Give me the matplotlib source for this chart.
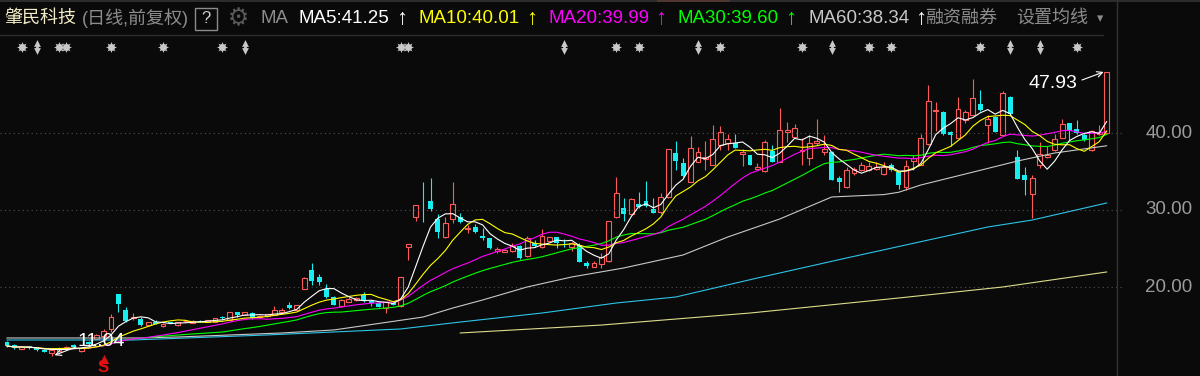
import numpy as np
import pandas as pd
import matplotlib
matplotlib.use("Agg")
import matplotlib.pyplot as plt
from matplotlib.patches import Rectangle
from matplotlib.lines import Line2D

plt.rcParams['font.family'] = ['Liberation Sans', 'Noto Sans CJK SC', 'DejaVu Sans']

# daily candles, oldest first (前复权)
opens = [12.86, 12.47, 11.95, 12.34, 12.08, 11.82, 11.43, 11.69, 11.95, 12.47,
         11.69, 12.86, 13.25, 13.64, 14.55, 19.09, 17.01, 15.97, 15.84, 15.06,
         15.45, 14.94, 15.45, 15.06, 15.55, 15.32, 15.58, 15.45, 15.45, 16.10,
         15.71, 16.75, 16.36, 16.62, 16.10, 16.23, 16.36, 16.75, 17.66, 17.01,
         19.74, 22.21, 21.30, 19.74, 18.70, 17.53, 18.05, 18.31, 18.96, 18.18,
         17.92, 17.27, 17.92, 17.53, 25.19, 29.09, 31.35, 31.17, 28.83, 26.49,
         28.83, 29.09, 27.53, 27.79, 26.62, 26.36, 24.68, 24.55, 24.68, 25.32,
         24.03, 25.71, 25.19, 25.97, 26.49, 25.90, 25.19, 25.45, 23.12, 22.60,
         22.99, 23.38, 29.09, 30.26, 29.48, 30.78, 31.17, 30.13, 29.74, 31.69,
         37.40, 36.10, 33.64, 36.23, 36.62, 35.84, 38.44, 38.70, 38.70, 37.27,
         37.14, 35.32, 35.06, 37.66, 36.23, 40.13, 39.48, 37.70, 36.75, 38.70,
         37.53, 37.53, 34.16, 32.99, 34.80, 35.19, 35.19, 35.32, 34.68, 35.84,
         34.94, 32.99, 36.36, 35.84, 38.57, 42.86, 42.73, 40.13, 39.35, 41.69,
         42.34, 43.77, 41.04, 42.08, 39.74, 44.74, 36.88, 34.55, 32.08, 35.84,
         36.88, 37.79, 39.35, 41.30, 40.52, 39.74, 37.79, 39.87, 39.95]
highs = [12.99, 12.55, 12.30, 12.40, 12.15, 11.90, 11.90, 12.15, 12.30, 12.55,
         12.15, 12.95, 13.90, 14.55, 16.49, 19.15, 17.40, 16.62, 16.10, 15.50,
         15.71, 15.32, 15.50, 15.50, 15.71, 15.65, 15.71, 15.75, 16.00, 16.20,
         16.80, 16.80, 16.80, 16.70, 16.30, 16.55, 17.53, 17.27, 18.05, 17.70,
         21.30, 23.12, 21.69, 20.39, 18.83, 18.40, 18.70, 18.70, 19.35, 18.25,
         18.00, 18.10, 18.00, 21.30, 25.60, 30.65, 33.64, 34.16, 29.48, 29.09,
         33.64, 29.61, 28.05, 28.18, 27.66, 26.40, 25.19, 24.90, 25.71, 25.40,
         26.62, 26.10, 27.53, 26.55, 26.55, 26.23, 25.84, 25.71, 23.38, 23.38,
         24.42, 28.60, 34.29, 31.56, 31.50, 32.34, 33.77, 31.56, 32.21, 37.95,
         38.96, 36.75, 39.61, 38.18, 38.96, 41.04, 40.91, 39.87, 39.87, 37.92,
         37.20, 36.10, 39.09, 38.44, 43.25, 41.43, 41.17, 39.35, 39.74, 41.82,
         39.74, 37.60, 34.42, 35.58, 35.58, 36.23, 36.23, 36.23, 36.23, 36.10,
         35.00, 36.49, 37.14, 39.87, 46.23, 44.03, 42.80, 40.20, 44.68, 42.99,
         47.01, 45.58, 42.34, 42.15, 45.45, 44.80, 37.79, 35.58, 34.55, 38.83,
         38.31, 39.87, 41.82, 41.35, 41.69, 40.00, 40.39, 41.04, 47.93]
lows = [12.21, 12.00, 11.90, 12.00, 11.75, 11.50, 11.04, 11.60, 11.90, 12.15,
        11.60, 12.50, 13.20, 13.60, 14.16, 16.75, 15.50, 15.71, 15.00, 15.00,
        15.15, 14.81, 15.30, 15.00, 15.45, 15.30, 15.40, 15.40, 15.40, 15.90,
        15.60, 16.10, 16.30, 15.90, 16.00, 16.10, 16.30, 16.70, 17.20, 16.95,
        19.70, 20.26, 20.26, 18.57, 17.60, 17.45, 18.00, 18.20, 18.10, 17.53,
        17.35, 16.62, 17.60, 17.45, 23.51, 28.57, 28.44, 29.87, 26.36, 26.40,
        28.31, 28.31, 27.01, 27.00, 26.10, 25.00, 24.42, 24.50, 24.60, 23.70,
        23.95, 25.19, 25.10, 25.90, 25.06, 25.19, 24.68, 23.20, 22.47, 22.55,
        22.47, 23.30, 29.00, 28.57, 29.40, 30.30, 30.45, 29.55, 29.48, 31.60,
        35.19, 34.35, 33.60, 36.20, 35.19, 35.80, 37.79, 37.79, 38.00, 35.71,
        35.80, 35.25, 35.00, 36.20, 36.20, 38.83, 39.40, 35.84, 35.84, 38.44,
        37.14, 33.85, 32.34, 32.90, 34.55, 35.10, 35.10, 35.25, 34.60, 35.10,
        32.73, 32.60, 35.19, 35.80, 38.50, 40.26, 39.80, 38.31, 39.30, 41.30,
        42.30, 42.90, 38.70, 40.10, 39.70, 42.40, 34.00, 31.95, 28.96, 35.45,
        36.75, 37.70, 39.30, 38.96, 39.90, 39.00, 37.70, 39.80, 39.90]
closes = [12.34, 12.08, 12.21, 12.08, 11.82, 11.56, 11.82, 12.08, 12.21, 12.21,
          12.08, 12.60, 13.77, 14.29, 16.10, 17.79, 15.58, 16.10, 15.06, 15.45,
          15.19, 15.19, 15.32, 15.45, 15.60, 15.58, 15.45, 15.71, 15.97, 15.97,
          16.75, 16.36, 16.75, 15.97, 16.23, 16.49, 17.01, 17.01, 17.27, 17.66,
          21.17, 20.78, 20.65, 18.70, 17.66, 18.31, 18.44, 18.57, 18.18, 17.92,
          17.40, 18.05, 17.66, 21.30, 25.58, 30.65, 31.25, 30.13, 27.14, 28.31,
          30.78, 28.44, 27.66, 27.14, 26.36, 25.06, 24.94, 24.81, 25.32, 23.77,
          26.36, 25.32, 26.62, 26.49, 25.71, 25.80, 25.71, 23.25, 22.73, 23.12,
          23.90, 28.57, 32.21, 29.48, 31.43, 30.39, 30.52, 29.61, 31.69, 37.92,
          36.36, 34.42, 38.05, 37.53, 36.88, 39.22, 40.13, 39.22, 38.05, 37.53,
          35.84, 35.58, 38.83, 36.23, 40.39, 40.39, 40.65, 37.85, 38.70, 38.96,
          37.92, 33.90, 33.64, 35.19, 35.32, 35.84, 35.71, 35.58, 35.58, 35.19,
          33.25, 35.71, 36.75, 39.35, 44.16, 42.99, 39.87, 39.74, 43.12, 42.73,
          44.55, 42.99, 41.82, 40.13, 45.19, 42.47, 34.03, 33.90, 34.16, 37.27,
          37.14, 39.22, 41.17, 40.26, 40.00, 39.09, 40.26, 40.13, 47.93]

# longer averages at some candles
ma60_idx = [0, 18, 23, 37, 44, 56, 60, 64, 70, 76, 83, 91, 97, 104, 111, 118, 120, 123, 129, 136, 141, 148]
ma60_val = [13.38, 13.38, 13.51, 14.03, 14.42, 16.10, 17.27, 18.31, 20.00, 21.30, 22.47, 24.16,
            26.49, 28.83, 31.69, 32.00, 32.30, 33.25, 34.68, 36.36, 37.40, 38.34]
ma120_idx = [0, 17, 35, 53, 61, 72, 82, 90, 101, 113, 124, 132, 138, 148]
ma120_val = [13.12, 13.12, 13.77, 14.55, 15.45, 16.62, 17.92, 18.70, 21.17, 23.77, 26.10, 27.79, 28.70, 30.91]
ma250_idx = [61, 80, 100, 120, 134, 148]
ma250_val = [14.03, 15.06, 16.62, 18.57, 20.00, 21.95]

ma_labels = ["MA5:41.25", "MA10:40.01", "MA20:39.99", "MA30:39.60", "MA60:38.34"]
star_days = [2, 7, 8, 14, 21, 29, 53, 54, 82, 85, 96, 107, 116, 119, 131, 144]
arrow_days = [4, 32, 75, 93, 111, 135, 139]
axis_prices = [40, 30, 20]
low_day, low_price = 6, 11.04
high_day, high_price = 148, 47.93

BG = '#0a0a0a'
RED = '#ff5a5a'
CYAN = '#16eef0'
W, H = 1200, 376
STEP = 7.43     # px per candle
PX = 7.7        # px per yuan, 40.00 sits at y=133


def fx(px):
    return px / W


def fy(py):
    return 1 - py / H


def px2i(px):
    return (px - 7) / STEP


def py2p(py):
    return 40 - (py - 133) / PX


fig = plt.figure(figsize=(12, 3.76), dpi=100, facecolor=BG)
ax = fig.add_axes([0, 0, 1124 / W, 1])
ax.set_xlim(px2i(0), px2i(1124))
ax.set_ylim(py2p(H), py2p(0))
ax.axis('off')

for v in axis_prices:
    ax.axhline(v, color='#505050', lw=0.8, ls=(0, (1, 3)))

o = np.array(opens); h = np.array(highs); l = np.array(lows); c = np.array(closes)
x = np.arange(len(c))
up = c >= o
dn = ~up

ax.vlines(x[dn], l[dn], h[dn], color=CYAN, lw=0.8)
ax.bar(x[dn], np.maximum(o[dn] - c[dn], 0.08), bottom=c[dn], width=0.66, color=CYAN, lw=0)
ax.vlines(x[up], c[up], h[up], color=RED, lw=0.8)
ax.vlines(x[up], l[up], o[up], color=RED, lw=0.8)
ax.bar(x[up], np.maximum(c[up] - o[up], 0.01), bottom=o[up], width=0.66,
       facecolor=BG, edgecolor=RED, lw=0.8)

# moving averages
ax.plot(ma250_idx, ma250_val, color='#dcdc8c', lw=0.8)
ax.plot(ma120_idx, ma120_val, color='#2cc4e8', lw=0.8)
ax.plot(ma60_idx, ma60_val, color='#c8c8c8', lw=0.8)
cs = pd.Series(closes)
for n, col in [(30, '#00ff00'), (20, '#ff00ff'), (10, '#ffff00'), (5, '#ffffff')]:
    ax.plot(x, cs.rolling(n, min_periods=1).mean(), color=col, lw=0.8)

# event markers row
ym = py2p(47)
ax.scatter(star_days, [ym] * len(star_days), s=24, marker='o', color='#c8c8c8', lw=0)
ax.scatter(star_days, [ym] * len(star_days), s=64, marker=(8, 1, 0), color='#c8c8c8', lw=0)
ax.vlines(arrow_days, ym - 0.5, ym + 0.5, color='#c8c8c8', lw=2)
ax.scatter(arrow_days, [ym + 0.55] * len(arrow_days), s=24, marker='^', color='#c8c8c8', lw=0)
ax.scatter(arrow_days, [ym - 0.55] * len(arrow_days), s=24, marker='v', color='#c8c8c8', lw=0)

# low / high labels
ax.text(px2i(101), py2p(341), "11.04", color='white', fontsize=14, ha='center', va='center')
ax.annotate('', xy=(low_day + 0.4, low_price + 0.1), xytext=(px2i(76), py2p(347)),
            arrowprops=dict(arrowstyle='->', color='white', lw=0.8, shrinkA=0, shrinkB=0))
ax.text(px2i(1053), py2p(83), "47.93", color='white', fontsize=14, ha='center', va='center')
ax.annotate('', xy=(high_day - 0.4, high_price), xytext=(px2i(1082), py2p(80)),
            arrowprops=dict(arrowstyle='->', color='white', lw=0.8, shrinkA=0, shrinkB=0))

# red S signal under the low
ax.scatter([13], [py2p(359)], s=45, marker='^', color='#e01010', lw=0)
ax.text(13, py2p(367), "S", color='#e01010', fontsize=12, fontweight='bold', ha='center', va='center')

# right price axis
for v in axis_prices:
    fig.text(fx(1169), fy(133 + (40 - v) * PX), "%.2f" % v, color='#9c9c9c', fontsize=13.5,
             ha='center', va='center')

# frame lines
fig.add_artist(Line2D([fx(1117), fx(1117)], [0, 1], color='#333333', lw=1))
fig.add_artist(Line2D([0, 1], [fy(1), fy(1)], color='#333333', lw=1.2))
fig.add_artist(Line2D([0, fx(1103)], [fy(35), fy(35)], color='#2c2c2c', lw=1))
fig.add_artist(Rectangle((fx(657), fy(2)), fx(73), 2 / H, color='#e0501e', lw=0))

# header
yh = fy(18.5)
fig.text(fx(4), yh, "肇民科技", color='#f2ecc6', fontsize=13, va='center')
fig.text(fx(82), yh, "(日线,前复权)", color='#8c8c8c', fontsize=13, va='center')
fig.add_artist(Rectangle((fx(195), fy(30)), fx(22), 22 / H, fill=False, edgecolor='#8c8c8c', lw=1))
fig.text(fx(206), yh, "?", color='#d0d0d0', fontsize=12, ha='center', va='center')
fig.text(fx(238), yh, "⚙", color='#5a5a5a', fontsize=17, ha='center', va='center',
         family='DejaVu Sans')
fig.text(fx(260), yh, "MA", color='#8c8c8c', fontsize=13.5, va='center')
ma_x = [298, 418, 548, 678, 809]
arr_x = [402, 532, 661, 791, 921]
ma_cols = ['#ffffff', '#ffff00', '#ff00ff', '#00ff00', '#c8c8c8']
for lab, lx, axx, col in zip(ma_labels, ma_x, arr_x, ma_cols):
    fig.text(fx(lx), yh, lab, color=col, fontsize=13.5, va='center')
    fig.text(fx(axx), yh, "↑", color=col if col != '#c8c8c8' else '#ffffff', fontsize=16,
             ha='center', va='center')
fig.text(fx(925), yh, "融资融券", color='#8c8c8c', fontsize=13, va='center')
fig.text(fx(1016), yh, "设置均线", color='#8c8c8c', fontsize=13, va='center')
fig.text(fx(1100), yh, "▾", color='#8c8c8c', fontsize=9, ha='center', va='center',
         family='DejaVu Sans')

fig.savefig("out.png", dpi=100, facecolor=BG)
